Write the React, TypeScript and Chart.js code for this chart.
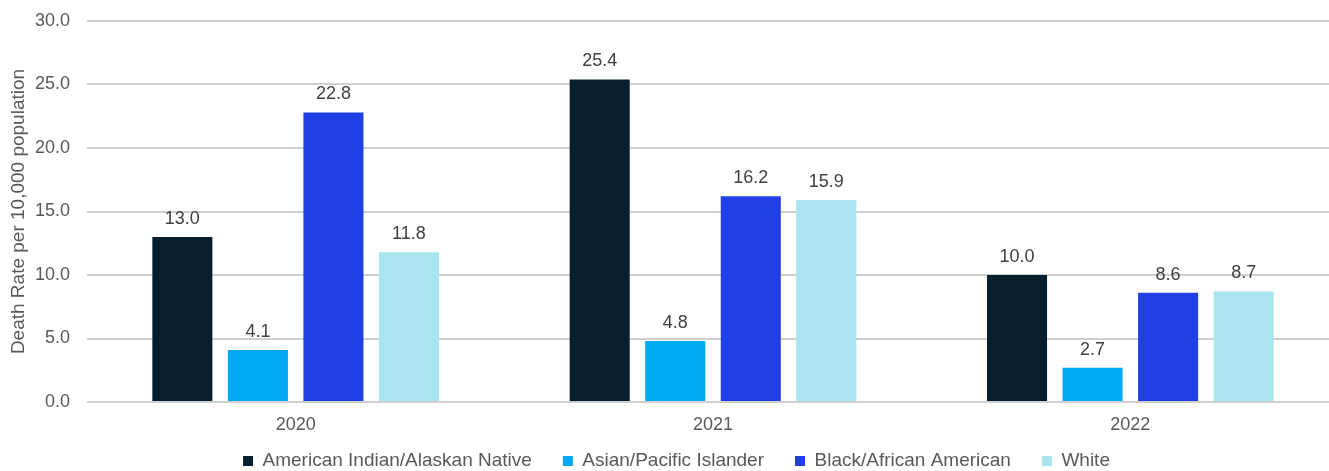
import React, { useEffect, useRef } from "react";
import { Chart, registerables } from "chart.js";

Chart.register(...registerables);

const years = ["2020", "2021", "2022"];
const seriesNames = [
  "American Indian/Alaskan Native",
  "Asian/Pacific Islander",
  "Black/African American",
  "White",
];
const americanIndian = [13.0, 25.4, 10.0];
const asianPacific = [4.1, 4.8, 2.7];
const blackAfrican = [22.8, 16.2, 8.6];
const white = [11.8, 15.9, 8.7];
const seriesColors = ["#071e2e", "#00aaf2", "#2040e6", "#aae4ee"];
const yTitle = "Death Rate per 10,000 population";

const FONT = "'Liberation Sans', Arial, sans-serif";
const LEGEND_HEIGHT = 29;
const LEGEND_CENTER_Y = 461;
const LEGEND_SHIFT_X = 7;

const valueLabels = {
  id: "valueLabels",
  afterDatasetsDraw(chart: any) {
    const ctx = chart.ctx;
    ctx.save();
    ctx.font = `18px ${FONT}`;
    ctx.fillStyle = "#404040";
    ctx.textAlign = "center";
    ctx.textBaseline = "middle";
    chart.data.datasets.forEach((ds: any, i: number) => {
      const meta = chart.getDatasetMeta(i);
      if (meta.hidden) return;
      meta.data.forEach((bar: any, j: number) => {
        const v = ds.data[j];
        ctx.fillText(Number(v).toFixed(1), bar.x, bar.y - 18);
      });
    });
    ctx.restore();
  },
};

// keep the legend's wide horizontal spacing but a compact height
const compactLegend = {
  id: "compactLegend",
  beforeLayout(chart: any) {
    const lg = chart.legend;
    if (!lg || lg.__compact) return;
    lg.__compact = true;
    const origFit = lg.fit.bind(lg);
    lg.fit = function () {
      origFit();
      this.height = LEGEND_HEIGHT;
    };
    lg.draw = function () {
      if (!this.options.display) return;
      const pad = this.options.labels.padding;
      const fs = this.options.labels.font.size;
      const itemCenter = this.top + pad + fs / 2;
      const c = this.ctx;
      c.save();
      c.translate(LEGEND_SHIFT_X, LEGEND_CENTER_Y - itemCenter);
      this._draw();
      c.restore();
    };
  },
};

export default function App() {
  const ref = useRef<HTMLCanvasElement>(null);
  useEffect(() => {
    const values = [americanIndian, asianPacific, blackAfrican, white];
    const chart = new Chart(ref.current as HTMLCanvasElement, {
      type: "bar",
      data: {
        labels: years,
        datasets: seriesNames.map((name, i) => ({
          label: name,
          data: values[i],
          backgroundColor: seriesColors[i],
          borderWidth: 0,
          categoryPercentage: 0.724,
          barPercentage: 0.795,
        })),
      },
      options: {
        animation: false,
        responsive: false,
        maintainAspectRatio: false,
        layout: { padding: { top: 21, right: 0, left: 0, bottom: 0 } },
        plugins: {
          tooltip: { enabled: false },
          legend: {
            position: "bottom",
            labels: {
              boxWidth: 10,
              boxHeight: 10,
              padding: 31,
              color: "#595959",
              font: { family: FONT, size: 19 },
            },
          },
        },
        scales: {
          x: {
            grid: { display: false, drawTicks: false },
            border: { display: false },
            ticks: { color: "#595959", font: { family: FONT, size: 18 }, padding: 12 },
            afterFit: (s: any) => {
              s.height = 40;
            },
          },
          y: {
            min: 0,
            max: 30,
            grid: { color: "#cfcfcf", lineWidth: 2, drawTicks: false },
            border: { display: false },
            ticks: {
              stepSize: 5,
              color: "#595959",
              font: { family: FONT, size: 18 },
              padding: 17,
              callback: (v: any) => Number(v).toFixed(1),
            },
            title: {
              display: true,
              text: yTitle,
              color: "#595959",
              font: { family: FONT, size: 19 },
              padding: { top: 7, bottom: 0 },
            },
            afterFit: (s: any) => {
              s.width = 87;
              s.paddingTop = 0;
              s.paddingBottom = 0;
            },
          },
        },
      },
      plugins: [valueLabels, compactLegend],
    });
    return () => chart.destroy();
  }, []);
  return (
    <div
      style={{
        position: "absolute",
        left: 0,
        top: 0,
        width: 1329,
        height: 471,
        overflow: "hidden",
        background: "#fff",
      }}
    >
      <canvas ref={ref} width={1339} height={471} style={{ display: "block" }} />
    </div>
  );
}
